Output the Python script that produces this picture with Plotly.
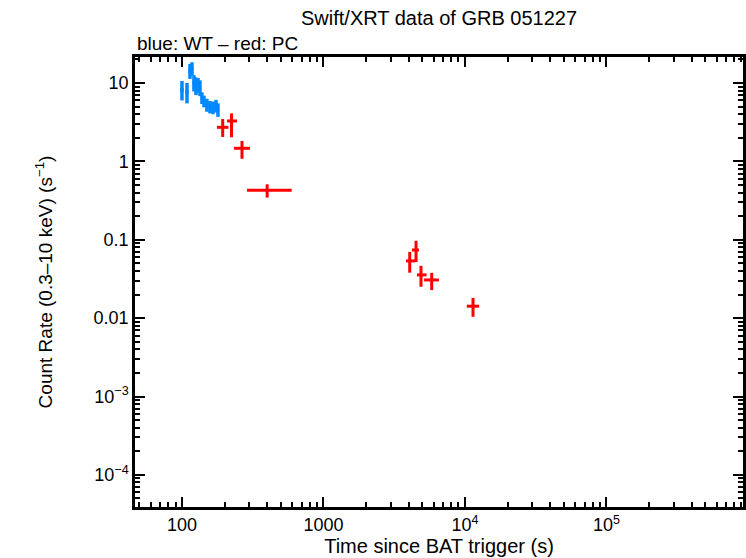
import plotly.graph_objects as go

# WT mode (blue) points: time (s), rate (counts/s) with errors
wt_time = [100, 108.5, 113.9, 117.7, 121.5, 125.6, 129.7, 134, 138.4, 143, 150, 157.6, 165.6, 174, 179.6]
wt_terr = [3, 3, 3, 3, 3, 3, 3, 3, 3, 3, 4, 4, 4, 4, 4]
wt_rate = [8.15, 7.67, 14.2, 15.1, 10.0, 9.16, 9.43, 8.63, 6.44, 5.89, 5.24, 4.94, 4.80, 5.09, 4.53]
wt_rate_hi = [10.6, 10.0, 17.5, 18.4, 12.6, 11.8, 11.6, 10.8, 7.6, 6.9, 6.3, 5.9, 5.8, 6.1, 5.5]
wt_rate_lo = [6.0, 5.5, 11.3, 12.4, 7.8, 7.0, 7.5, 6.8, 5.4, 4.9, 4.3, 4.1, 4.0, 4.2, 3.7]

# PC mode (red) points
pc_time = [194, 224, 265.6, 400, 4070, 4510, 4890, 5820, 11400]
pc_time_lo = [176.6, 208, 233, 288, 3833, 4220, 4575, 5140, 10300]
pc_time_hi = [213, 245, 302.6, 596, 4455, 4730, 5350, 6550, 12590]
pc_rate = [2.72, 3.28, 1.47, 0.428, 0.0537, 0.074, 0.0356, 0.0307, 0.0142]
pc_rate_lo = [2.05, 2.03, 1.08, 0.345, 0.038, 0.052, 0.0251, 0.0228, 0.0104]
pc_rate_hi = [3.47, 4.1, 1.82, 0.51, 0.070, 0.097, 0.0465, 0.0378, 0.0181]

x_tickvals = [100, 1000, 1e4, 1e5]
x_ticktext = ["100", "1000", "10<sup>4</sup>", "10<sup>5</sup>"]
y_tickvals = [10, 1, 0.1, 0.01, 1e-3, 1e-4]
y_ticktext = ["10", "1", "0.1", "0.01", "10<sup>\u22123</sup>", "10<sup>\u22124</sup>"]

blue = "rgb(0,136,255)"

fig = go.Figure()

fig.add_trace(go.Scatter(
    x=wt_time, y=wt_rate, mode="markers",
    marker=dict(size=1, color=blue),
    error_x=dict(type="data", array=wt_terr, color=blue, thickness=3.5, width=0),
    error_y=dict(type="data", symmetric=False,
                 array=[h - v for h, v in zip(wt_rate_hi, wt_rate)],
                 arrayminus=[v - l for l, v in zip(wt_rate_lo, wt_rate)],
                 color=blue, thickness=3.5, width=0),
    showlegend=False))

fig.add_trace(go.Scatter(
    x=pc_time, y=pc_rate, mode="markers",
    marker=dict(size=1, color="red"),
    error_x=dict(type="data", symmetric=False,
                 array=[h - v for h, v in zip(pc_time_hi, pc_time)],
                 arrayminus=[v - l for l, v in zip(pc_time_lo, pc_time)],
                 color="red", thickness=3, width=0),
    error_y=dict(type="data", symmetric=False,
                 array=[h - v for h, v in zip(pc_rate_hi, pc_rate)],
                 arrayminus=[v - l for l, v in zip(pc_rate_lo, pc_rate)],
                 color="red", thickness=3, width=0),
    showlegend=False))

# minor ticks at 2..9 of each decade
x_minor = [m * 10 ** d for d in range(1, 7) for m in range(2, 10)]
y_minor = [m * 10 ** d for d in range(-5, 2) for m in range(2, 10)]

fig.update_xaxes(
    type="log", range=[1.668, 5.965],
    tickmode="array", tickvals=x_tickvals, ticktext=x_ticktext,
    ticks="inside", ticklen=10, tickwidth=2, tickcolor="black",
    tickfont=dict(size=18),
    minor=dict(tickmode="array", tickvals=x_minor, ticks="inside", ticklen=5, tickwidth=2, tickcolor="black"),
    showline=True, linecolor="black", linewidth=2.5, mirror="allticks",
    showgrid=False, zeroline=False,
    title=dict(text="Time since BAT trigger (s)", standoff=4, font=dict(size=20)),
)
fig.update_yaxes(
    type="log", range=[-4.41, 1.332],
    tickmode="array", tickvals=y_tickvals, ticktext=y_ticktext,
    ticks="inside", ticklen=10, tickwidth=2, tickcolor="black",
    tickfont=dict(size=18),
    minor=dict(tickmode="array", tickvals=y_minor, ticks="inside", ticklen=5, tickwidth=2, tickcolor="black"),
    showline=True, linecolor="black", linewidth=2.5, mirror="allticks",
    showgrid=False, zeroline=False,
    title=dict(text="Count Rate (0.3\u201310 keV) (s<sup>\u22121</sup>)", standoff=36, font=dict(size=19)),
)

fig.update_layout(
    width=746, height=558,
    margin=dict(l=135, r=3, t=57, b=51, autoexpand=False),
    plot_bgcolor="white", paper_bgcolor="white",
    font=dict(family="Liberation Sans, Arial, sans-serif", size=18, color="black"),
    annotations=[
        dict(text="Swift/XRT data of GRB 051227", xref="paper", yref="paper",
             x=0.5, y=1, yshift=39, xanchor="center", yanchor="middle",
             showarrow=False, font=dict(size=20)),
        dict(text="blue: WT \u2013 red: PC", xref="paper", yref="paper",
             x=0, y=1, yshift=14, xanchor="left", yanchor="middle",
             showarrow=False, font=dict(size=19)),
    ],
)

fig.write_html("out.html", config={"displayModeBar": False},
               post_script="document.body.style.margin='0';")
